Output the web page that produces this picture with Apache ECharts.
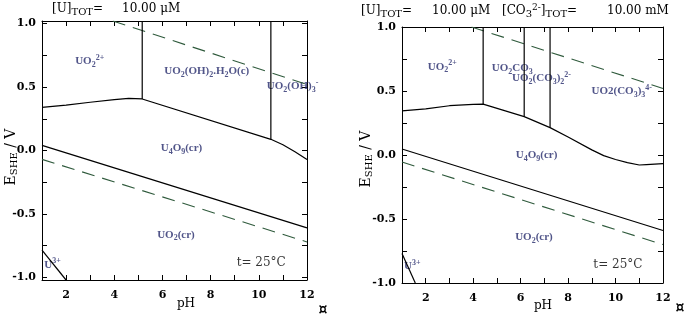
<!DOCTYPE html>
<html>
<head>
<meta charset="utf-8">
<script src="https://cdn.jsdelivr.net/npm/echarts@6/dist/echarts.min.js"></script>
<style>
  html, body { margin: 0; background: #fff; }
  #chart { width: 685px; height: 314px; }
</style>
</head>
<body>
<div id="chart"></div>
<script>
// axis ticks
const phLabels = [2, 4, 6, 8, 10, 12];
const eTicks = [-1, -0.75, -0.5, -0.25, 0, 0.25, 0.5, 0.75, 1];
const eLabels = [-1, -0.5, 0, 0.5, 1];

// left diagram: [U]tot = 10 uM, no carbonate
const leftO2 = [[3.94, 1.02], [12, 0.52]];
const leftH2 = [[1, -0.07], [12, -0.72]];
const leftUpper = [[1, 0.34], [2, 0.357], [3, 0.38], [4, 0.4], [4.6, 0.41], [5.16, 0.406],
  [10.5, 0.088], [11, 0.045], [11.5, -0.01], [12, -0.07]];
const leftLower = [[1, 0.04], [12, -0.61]];
const leftU3 = [[1, -0.784], [2.0, -1.02]];
const leftVert1 = [[5.16, 1.02], [5.16, 0.406]];
const leftVert2 = [[10.5, 1.02], [10.5, 0.088]];
const leftLabels = [
  ['{m|UO}{s|2}{p|2+}', 2.98, 0.70],
  ['{m|UO}{s|2}{m|(OH)}{s|2}{m|.H}{s|2}{m|O(c)}', 7.84, 0.626],
  ['{m|UO}{s|2}{m|(OH)}{s|3}{p|-}', 11.4, 0.508],
  ['{m|U}{s|4}{m|O}{s|9}{m|(cr)}', 6.79, 0.02],
  ['{m|UO}{s|2}{m|(cr)}', 6.56, -0.665],
  ['{t|t= 25°C}', 10.1, -0.884],
  ['{m|U}{p|3+}', 1.44, -0.90]
];

// right diagram: [U]tot = 10 uM, [CO3 2-]tot = 10 mM
const rightO2 = [[3.93, 1], [12, 0.52]];
const rightH2 = [[1, -0.055], [12, -0.70]];
const rightUpper = [[1, 0.345], [2, 0.36], [3, 0.385], [4, 0.395], [4.42, 0.397], [6.15, 0.30],
  [7.24, 0.214], [8, 0.14], [9, 0.04], [9.5, -0.005], [10, -0.035], [10.5, -0.06],
  [11, -0.078], [11.3, -0.075], [12, -0.068]];
const rightLower = [[1, 0.047], [12, -0.59]];
const rightU3 = [[1, -0.77], [1.56, -1.0]];
const rightVert1 = [[4.42, 1], [4.42, 0.397]];
const rightVert2 = [[6.15, 1], [6.15, 0.30]];
const rightVert3 = [[7.24, 1], [7.24, 0.214]];
const rightLabels = [
  ['{m|UO}{s|2}{p|2+}', 2.70, 0.69],
  ['{m|UO}{s|2}{m|CO}{s|3}', 5.65, 0.679],
  ['{m|UO}{s|2}{m|(CO}{s|3}{m|)}{s|2}{p|2-}', 6.88, 0.60],
  ['{m|UO2(CO}{s|3}{m|)}{s|3}{p|4-}', 10.26, 0.50],
  ['{m|U}{s|4}{m|O}{s|9}{m|(cr)}', 6.67, 0.0],
  ['{m|UO}{s|2}{m|(cr)}', 6.56, -0.645],
  ['{t|t= 25°C}', 10.1, -0.86],
  ['{m|U}{p|3+}', 1.43, -0.87]
];

const serif = 'Liberation Serif';
const wide = 'DejaVu Serif';
const navy = '#252b6c';
const dashGreen = '#2f5a3c';

const labelRich = {
  m: { fontFamily: serif, fontSize: 11, fontWeight: 'bold', color: navy, lineHeight: 15 },
  s: { fontFamily: serif, fontSize: 8, fontWeight: 'bold', color: navy, lineHeight: 9, verticalAlign: 'bottom' },
  p: { fontFamily: serif, fontSize: 8, fontWeight: 'bold', color: navy, lineHeight: 9, verticalAlign: 'top' },
  t: { fontFamily: wide, fontSize: 12, color: '#000', lineHeight: 15 }
};

const titleRich = {
  n: { fontFamily: wide, fontSize: 12, color: '#000', lineHeight: 16 },
  s: { fontFamily: wide, fontSize: 10, color: '#000', verticalAlign: 'bottom', lineHeight: 10 },
  p: { fontFamily: wide, fontSize: 9, color: '#000', verticalAlign: 'top', lineHeight: 10 }
};

const tickStyle = { inside: true, length: 5, lineStyle: { color: '#000', width: 1 } };
const lineAxis = { onZero: false, lineStyle: { color: '#000', width: 1 } };
const tickFont = { color: '#000', fontFamily: wide, fontWeight: 'bold', fontSize: 11 };

function xAxes(g) {
  return [{
    type: 'value', gridIndex: g, min: 1, max: 12, interval: 1,
    axisLine: lineAxis, axisTick: tickStyle, splitLine: { show: false },
    axisLabel: Object.assign({ customValues: phLabels, margin: 10 }, tickFont)
  }, {
    type: 'value', gridIndex: g, position: 'top', min: 1, max: 12, interval: 1,
    axisLine: lineAxis, axisTick: tickStyle, axisLabel: { show: false }, splitLine: { show: false }
  }];
}

function yAxes(g, lo, hi) {
  return [{
    type: 'value', gridIndex: g, min: lo, max: hi,
    axisLine: lineAxis, splitLine: { show: false },
    axisTick: Object.assign({ customValues: eTicks }, tickStyle),
    axisLabel: Object.assign({ customValues: eLabels, formatter: v => v.toFixed(1), margin: 6 }, tickFont)
  }, {
    type: 'value', gridIndex: g, position: 'right', min: lo, max: hi,
    axisLine: lineAxis, splitLine: { show: false },
    axisTick: Object.assign({ customValues: eTicks }, tickStyle), axisLabel: { show: false }
  }];
}

function solid(data, ax) {
  return { type: 'line', data, xAxisIndex: ax, yAxisIndex: ax, symbol: 'none', silent: true,
    lineStyle: { color: '#000', width: 1.2 } };
}
function dashed(data, ax) {
  return { type: 'line', data, xAxisIndex: ax, yAxisIndex: ax, symbol: 'none', silent: true,
    lineStyle: { color: dashGreen, width: 1.1, type: [13, 8] } };
}
function labels(list, ax) {
  return {
    type: 'scatter', xAxisIndex: ax, yAxisIndex: ax, symbolSize: 1, silent: true,
    itemStyle: { color: 'rgba(0,0,0,0)' },
    label: { show: true, position: 'inside', rich: labelRich },
    data: list.map(d => ({ value: [d[1], d[2]], label: { formatter: d[0] } }))
  };
}

// free text: titles, axis names, stray glyph
function txt(x, y, text, extra) {
  return { type: 'text', x, y, silent: true, ...extra,
    style: { text, rich: titleRich, verticalAlign: 'middle', align: 'left', ...(extra && extra.style) } };
}
const yName = { s: { fontFamily: wide, fontSize: 10, color: '#000', verticalAlign: 'bottom', lineHeight: 10 },
  n: { fontFamily: wide, fontSize: 14, color: '#000', lineHeight: 16 } };

const chart = echarts.init(document.getElementById('chart'), null, { renderer: 'canvas' });
chart.setOption({
  backgroundColor: '#fff',
  animation: false,
  grid: [
    { left: 42, top: 21, width: 265, height: 259 },
    { left: 402, top: 27, width: 261, height: 256 }
  ],
  xAxis: [...xAxes(0), ...xAxes(1)],
  yAxis: [...yAxes(0, -1.02, 1.02), ...yAxes(1, -1, 1)],
  series: [
    dashed(leftO2, 0), dashed(leftH2, 0),
    solid(leftUpper, 0), solid(leftLower, 0), solid(leftU3, 0),
    solid(leftVert1, 0), solid(leftVert2, 0),
    labels(leftLabels, 0),
    dashed(rightO2, 2), dashed(rightH2, 2),
    solid(rightUpper, 2), solid(rightLower, 2), solid(rightU3, 2),
    solid(rightVert1, 2), solid(rightVert2, 2), solid(rightVert3, 2),
    labels(rightLabels, 2)
  ],
  graphic: [
    txt(52, 9, '{n|[U]}{s|TOT}{n|=}'),
    txt(122, 9, '{n|10.00 μM}'),
    txt(361, 11, '{n|[U]}{s|TOT}{n|=}'),
    txt(432, 11, '{n|10.00 μM}'),
    txt(502, 11, '{n|[CO}{s|3}{p|2-}{n|]}{s|TOT}{n|=}'),
    txt(607, 11, '{n|10.00 mM}'),
    txt(11, 157, '{n|E}{s|SHE}{n| / V}', { rotation: Math.PI / 2, style: { rich: yName, align: 'center' } }),
    txt(366, 159, '{n|E}{s|SHE}{n| / V}', { rotation: Math.PI / 2, style: { rich: yName, align: 'center' } }),
    txt(186, 304, '{n|pH}', { style: { align: 'center' } }),
    txt(543, 306, '{n|pH}', { style: { align: 'center' } }),
    txt(323, 310, '¤', { style: { align: 'center', fontFamily: wide, fontSize: 14, fontWeight: 'bold', fill: '#000' } }),
    txt(680, 308, '¤', { style: { align: 'center', fontFamily: wide, fontSize: 14, fontWeight: 'bold', fill: '#000' } })
  ]
});
</script>
</body>
</html>
